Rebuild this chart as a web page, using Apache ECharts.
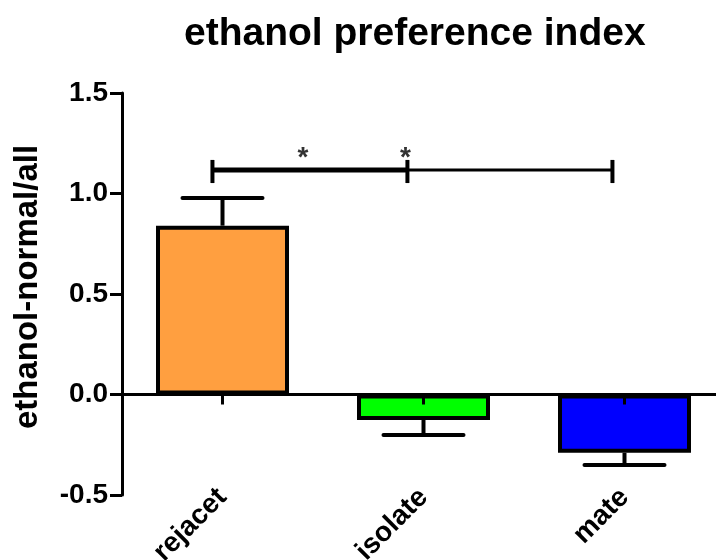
<!DOCTYPE html>
<html>
<head>
<meta charset="utf-8">
<script src="https://cdn.jsdelivr.net/npm/echarts@6/dist/echarts.min.js"></script>
<style>html,body{margin:0;padding:0;background:#fff}#c{width:716px;height:560px}</style>
</head>
<body>
<div id="c"></div>
<script>
const categories = ['rejacet', 'isolate', 'mate'];
const means = [0.84, -0.127, -0.29];
const sems = [0.138, 0.074, 0.061];
const barColors = ['#FF9F40', '#00FF00', '#0000FF'];
const yTicks = [-0.5, 0.0, 0.5, 1.0, 1.5];
const bracketX = [0.45, 1.42, 2.44];
const bracketY = 1.117;
const bracketTickTop = 1.167;
const bracketTickBottom = 1.052;
const starX = [0.90, 1.41];
const starY = 1.245;

const FONT = "Arial, 'Liberation Sans', sans-serif";
const chart = echarts.init(document.getElementById('c'), null, {renderer: 'canvas'});

const errData = categories.map((c, i) => [i, means[i], means[i] + Math.sign(means[i]) * sems[i]]);

chart.setOption({
  animation: false,
  title: {
    text: 'ethanol preference index',
    left: 179, top: 10,
    textStyle: {fontFamily: FONT, fontWeight: 'bold', fontSize: 39, color: '#000'}
  },
  grid: {left: 122, top: 93, width: 603, height: 402, containLabel: false, outerBoundsMode: 'none'},
  xAxis: [
    {
      type: 'category', data: categories, z: 5,
      axisLine: {onZero: true, lineStyle: {color: '#000', width: 3}},
      axisTick: {show: true, alignWithLabel: true, length: 10, lineStyle: {color: '#000', width: 3}},
      axisLabel: {show: false},
      splitLine: {show: false}
    },
    {
      type: 'category', data: categories, position: 'bottom',
      axisLine: {show: false, onZero: false},
      axisTick: {show: false},
      axisLabel: {show: true, rotate: 45, margin: -2, interval: 0,
        fontFamily: FONT, fontWeight: 'bold', fontSize: 28, color: '#000'},
      splitLine: {show: false}
    },
    {type: 'value', min: 0, max: 3, show: false}
  ],
  yAxis: {
    type: 'value', min: -0.5, max: 1.5, interval: 0.5,
    name: 'ethanol-normal/all', nameLocation: 'middle', nameGap: 78,
    nameTextStyle: {fontFamily: FONT, fontWeight: 'bold', fontSize: 33, color: '#000', padding: [0, 0, 0, 14]},
    axisLine: {show: true, onZero: false, lineStyle: {color: '#000', width: 3}},
    axisTick: {show: true, length: 12, lineStyle: {color: '#000', width: 3}},
    axisLabel: {margin: 14, fontFamily: FONT, fontWeight: 'bold', fontSize: 28, color: '#000',
      formatter: v => v.toFixed(1)},
    splitLine: {show: false}
  },
  series: [
    {
      type: 'bar', xAxisIndex: 0, barWidth: 133,
      data: means.map((v, i) => ({value: v, itemStyle: {color: barColors[i], borderColor: '#000', borderWidth: 4}}))
    },
    {
      type: 'custom', xAxisIndex: 0, z: 4,
      data: errData,
      renderItem: function (params, api) {
        const base = api.coord([api.value(0), api.value(1)]);
        const end = api.coord([api.value(0), api.value(2)]);
        const hw = 40;
        return {type: 'group', children: [
          {type: 'line', shape: {x1: base[0], y1: base[1], x2: end[0], y2: end[1]}, style: {stroke: '#000', lineWidth: 4}},
          {type: 'line', shape: {x1: end[0] - hw, y1: end[1], x2: end[0] + hw, y2: end[1]}, style: {stroke: '#000', lineWidth: 4, lineCap: 'round'}}
        ]};
      }
    },
    {
      type: 'custom', xAxisIndex: 2, z: 6,
      data: [[0]],
      renderItem: function (params, api) {
        const p = bracketX.map(x => api.coord([x, bracketY]));
        const top = api.coord([0, bracketTickTop])[1];
        const bot = api.coord([0, bracketTickBottom])[1];
        const children = [
          {type: 'line', shape: {x1: p[0][0], y1: p[0][1], x2: p[1][0], y2: p[1][1]}, style: {stroke: '#000', lineWidth: 5}},
          {type: 'line', shape: {x1: p[1][0], y1: p[1][1], x2: p[2][0], y2: p[2][1]}, style: {stroke: '#000', lineWidth: 3}}
        ];
        p.forEach(pt => children.push({type: 'line', shape: {x1: pt[0], y1: top, x2: pt[0], y2: bot}, style: {stroke: '#000', lineWidth: 4}}));
        starX.forEach(sx => {
          const s = api.coord([sx, starY]);
          children.push({type: 'text', x: s[0], y: s[1], style: {text: '*', fontFamily: FONT, fontWeight: 'bold', fontSize: 28, fill: '#333', align: 'center', verticalAlign: 'top'}});
        });
        return {type: 'group', children: children};
      }
    }
  ]
});
</script>
</body>
</html>
